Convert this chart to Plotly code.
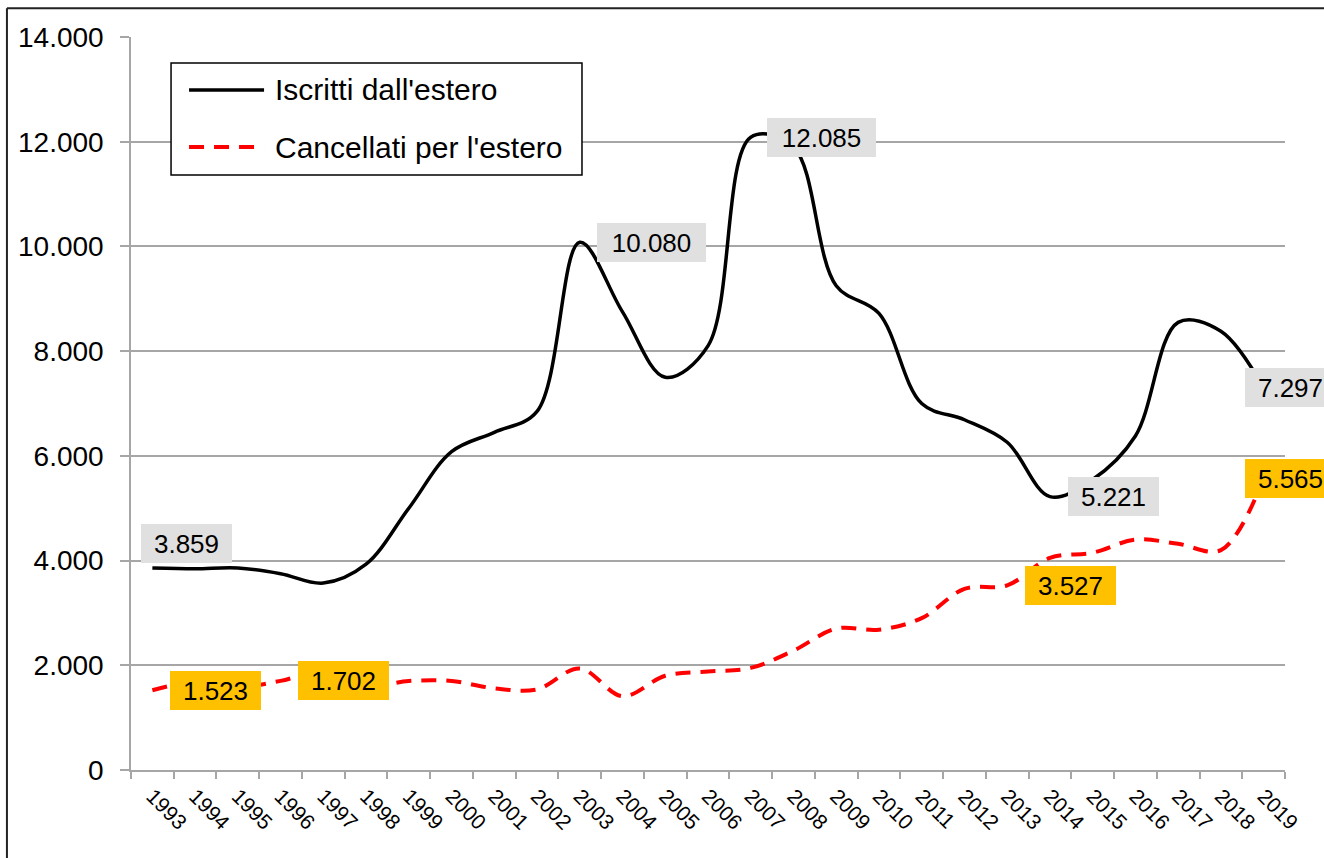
import plotly.graph_objects as go

# ---------------- data ----------------
anni = ["1993", "1994", "1995", "1996", "1997", "1998", "1999", "2000", "2001",
        "2002", "2003", "2004", "2005", "2006", "2007", "2008", "2009", "2010",
        "2011", "2012", "2013", "2014", "2015", "2016", "2017", "2018", "2019"]

iscritti = [3859, 3845, 3860, 3750, 3570, 3930, 5000, 6080, 6450,
            6850, 10080, 8750, 7500, 8100, 12085, 11900, 9250, 8720,
            7000, 6690, 6260, 5221, 5550, 6380, 8550, 8380, 7297]

cancellati = [1523, 1680, 1580, 1702, 1880, 1600, 1700, 1700, 1560,
              1540, 1940, 1410, 1800, 1880, 1950, 2280, 2700, 2680,
              2900, 3460, 3527, 4050, 4150, 4400, 4320, 4200, 5565]

nome_iscritti = "Iscritti dall'estero"
nome_cancellati = "Cancellati per l'estero"

anni_etichette_iscritti = ["1993", "2003", "2007", "2014", "2019"]
anni_etichette_cancellati = ["1993", "1996", "2013", "2019"]

y_ticks = [0, 2000, 4000, 6000, 8000, 10000, 12000, 14000]

# ---------------- style ----------------
FONT = "Liberation Sans, Arial, sans-serif"
GRID = "#A6A6A6"
RED = "#FF0000"
GRAY_BOX = "#E0E0E0"
GOLD_BOX = "#FFC000"

# label offsets (px): box-left relative to point, vertical shift
label_offsets_iscritti = {"1993": (-11, 24), "2003": (17, 0), "2007": (16, 0),
                          "2014": (18, 0), "2019": (-19, 0)}
label_offsets_cancellati = {"1993": (18, 0), "1996": (17, 0), "2013": (18, 0),
                            "2019": (-19, 0)}


def fmt(v):
    return f"{v:,}".replace(",", ".")


fig = go.Figure()
fig.add_trace(go.Scatter(
    x=anni, y=iscritti, mode="lines", name=nome_iscritti, showlegend=False,
    line=dict(color="black", width=3.5, shape="spline", smoothing=1),
))
fig.add_trace(go.Scatter(
    x=anni, y=cancellati, mode="lines", name=nome_cancellati, showlegend=False,
    line=dict(color=RED, width=4, dash="15px,10px", shape="spline", smoothing=1),
))

annotations = []


def add_labels(years, series, offsets, bg):
    for yr in years:
        i = anni.index(yr)
        v = series[i]
        txt = fmt(v)
        dx, dy = offsets[yr]
        annotations.append(dict(
            x=i, y=v, xref="x", yref="y", text=txt, showarrow=False,
            xanchor="left", yanchor="middle", xshift=dx, yshift=dy,
            bgcolor=bg, borderpad=5, borderwidth=0,
            width=81 if len(txt) == 5 else 99, height=29,
            font=dict(family=FONT, size=26, color="black"),
        ))


add_labels(anni_etichette_iscritti, iscritti, label_offsets_iscritti, GRAY_BOX)
add_labels(anni_etichette_cancellati, cancellati, label_offsets_cancellati, GOLD_BOX)

# manual legend (paper coords of the plot area)
leg_x0, leg_x1, leg_y0, leg_y1 = 0.0347, 0.3908, 0.8117, 0.9645
row1, row2 = 0.9277, 0.8499
smp_x0, smp_x1, txt_x = 0.0503, 0.1153, 0.1231

shapes = [
    dict(type="rect", xref="paper", yref="paper", x0=leg_x0, x1=leg_x1,
         y0=leg_y0, y1=leg_y1, line=dict(color="black", width=1.5),
         fillcolor="white", layer="above"),
    dict(type="line", xref="paper", yref="paper", x0=smp_x0, x1=smp_x1,
         y0=row1, y1=row1, line=dict(color="black", width=3.5)),
    dict(type="line", xref="paper", yref="paper", x0=smp_x0, x1=smp_x1,
         y0=row2, y1=row2, line=dict(color=RED, width=4, dash="15px,10px")),
    # outer frame (left and top edges)
    dict(type="line", xref="paper", yref="paper", x0=-0.1075, x1=-0.1075,
         y0=-0.2, y1=1.0392, line=dict(color="#222222", width=2)),
    dict(type="line", xref="paper", yref="paper", x0=-0.1075, x1=1.1,
         y0=1.0392, y1=1.0392, line=dict(color="#222222", width=2)),
]
annotations += [
    dict(x=txt_x, y=row1, xref="paper", yref="paper", text=nome_iscritti,
         showarrow=False, xanchor="left", yanchor="middle",
         font=dict(family=FONT, size=30, color="black")),
    dict(x=txt_x, y=row2, xref="paper", yref="paper", text=nome_cancellati,
         showarrow=False, xanchor="left", yanchor="middle",
         font=dict(family=FONT, size=30, color="black")),
]

fig.update_layout(
    width=1324, height=858,
    margin=dict(l=131, r=39, t=37, b=88, autoexpand=False),
    paper_bgcolor="white", plot_bgcolor="white",
    separators=",.",
    font=dict(family=FONT, color="black"),
    shapes=shapes, annotations=annotations,
    showlegend=False,
)
fig.update_xaxes(
    type="category", range=[-0.5, len(anni) - 0.5], autorange=False,
    showline=True, linecolor=GRID, linewidth=1.5,
    ticks="outside", ticklen=7, tickwidth=1.5, tickcolor=GRID,
    tickson="boundaries", showgrid=False, zeroline=False,
    tickangle=45, tickfont=dict(family=FONT, size=21, color="black"),
    ticklabelstandoff=4,
)
fig.update_yaxes(
    range=[0, 14000], autorange=False, tickvals=y_ticks, tickformat=",d",
    showline=True, linecolor=GRID, linewidth=1.5,
    ticks="outside", ticklen=9, tickwidth=1.5, tickcolor=GRID,
    showgrid=True, gridcolor=GRID, gridwidth=1.5, zeroline=False,
    tickfont=dict(family=FONT, size=28, color="black"),
    ticklabelstandoff=11,
)

fig.write_html(
    "out.html",
    config={"displayModeBar": False},
    post_script="document.body.style.margin='0';document.body.style.overflow='hidden';",
)
